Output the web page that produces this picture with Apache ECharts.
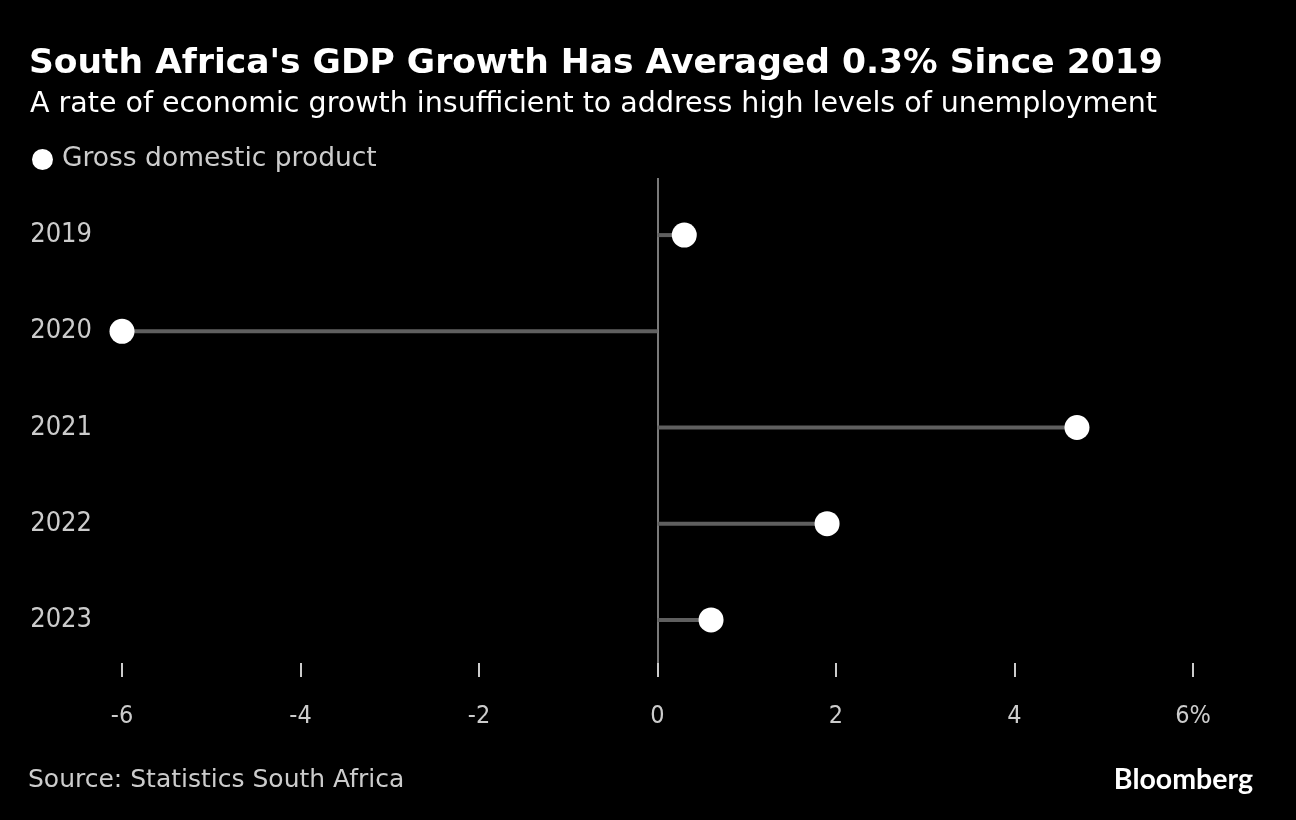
<!DOCTYPE html>
<html>
<head>
<meta charset="utf-8">
<script src="https://cdn.jsdelivr.net/npm/echarts@6/dist/echarts.min.js"></script>
<style>
html,body{margin:0;padding:0;background:#000;}
#c{width:1296px;height:820px;}
</style>
</head>
<body>
<div id="c"></div>
<script>
const years = ['2019', '2020', '2021', '2022', '2023'];
const gdpGrowth = [0.3, -6.0, 4.7, 1.9, 0.6];
const xTicks = [-6, -4, -2, 0, 2, 4, 6];

const COND = '"DejaVu Sans Condensed","DejaVu Sans",sans-serif';
const WIDE = '"DejaVu Sans",sans-serif';
const chart = echarts.init(document.getElementById('c'));
const splitColors = xTicks.map(v => v === 0 ? '#7a7a7a' : 'rgba(0,0,0,0)');

chart.setOption({
  backgroundColor: '#000',
  animation: false,
  title: [
    {text: "South Africa's GDP Growth Has Averaged 0.3% Since 2019", left: 24, top: 42,
     textStyle: {color: '#fff', fontSize: 34.5, fontWeight: 'bold', fontFamily: WIDE}},
    {text: 'A rate of economic growth insufficient to address high levels of unemployment', left: 25, top: 85,
     textStyle: {color: '#fff', fontSize: 28.5, fontWeight: 'normal', fontFamily: WIDE}},
    {text: 'Source: Statistics South Africa', left: 23, top: 763,
     textStyle: {color: '#ccc', fontSize: 25, fontWeight: 'normal', fontFamily: WIDE}},
    {text: 'Bloomberg', right: 38, top: 760,
     textStyle: {color: '#fff', fontSize: 28.5, fontWeight: 'bold', fontFamily: 'Lato, "Open Sans", sans-serif'}}
  ],
  legend: {
    left: 27, top: 141, itemWidth: 21, itemHeight: 21, itemGap: 10,
    icon: 'circle',
    data: [{name: 'Gross domestic product', itemStyle: {color: '#fff', opacity: 1}}],
    textStyle: {color: '#ccc', fontSize: 26.5, fontFamily: WIDE, padding: [0, 0, 0, 4]}
  },
  grid: [
    {left: 122, right: 103, top: 178, bottom: 143},
    {left: 122, right: 103, top: 187, bottom: 152}
  ],
  xAxis: [
    {gridIndex: 0, type: 'value', min: -6, max: 6, interval: 2,
     axisLine: {show: false},
     axisTick: {show: true, inside: true, length: 14, lineStyle: {color: '#ccc', width: 2}},
     axisLabel: {color: '#ccc', fontSize: 25, fontFamily: COND, margin: 27,
       formatter: v => v === 6 ? '6%' : String(v)},
     splitLine: {show: true, lineStyle: {color: splitColors, width: 2}}},
    {gridIndex: 1, type: 'value', min: -6, max: 6, interval: 2, show: false,
     splitLine: {show: false}}
  ],
  yAxis: [
    {gridIndex: 0, type: 'value', show: false, splitLine: {show: false}},
    {gridIndex: 1, type: 'category', data: years, inverse: true,
     axisLine: {show: false}, axisTick: {show: false},
     axisLabel: {color: '#ccc', fontSize: 27, fontFamily: COND, margin: 30}}
  ],
  series: [
    {type: 'bar', xAxisIndex: 1, yAxisIndex: 1, data: gdpGrowth, barWidth: 4,
     itemStyle: {color: '#5f5f5f'}, silent: true, z: 2},
    {name: 'Gross domestic product', type: 'scatter', xAxisIndex: 1, yAxisIndex: 1,
     data: gdpGrowth, symbolSize: 25, itemStyle: {color: '#fff', opacity: 1}, z: 3}
  ]
});
</script>
</body>
</html>
